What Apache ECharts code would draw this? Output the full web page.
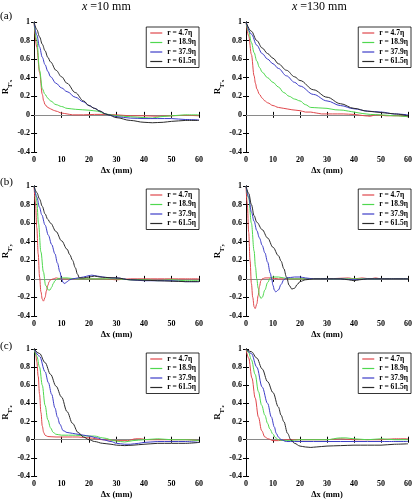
<!DOCTYPE html>
<html>
<head>
<meta charset="utf-8">
<script src="https://cdn.jsdelivr.net/npm/echarts@6/dist/echarts.min.js"></script>
<style>
html,body{margin:0;padding:0;background:#fff;}
#chart{width:415px;height:500px;}
</style>
</head>
<body>
<div id="chart"></div>
<script>
// ---------- data ----------
const seriesNames = ['r = 4.7η', 'r = 18.9η', 'r = 37.9η', 'r = 61.5η'];
const xTicks = [0, 10, 20, 30, 40, 50, 60];
const yTicks = [-0.4, -0.2, 0, 0.2, 0.4, 0.6, 0.8, 1];
const columnTitles = ['=10 mm', '=130 mm'];
const rowTags = ['(a)', '(b)', '(c)'];
const rowSubs = ['x', 'y', 'z'];

// (a) x = 10 mm
const aL_red = [[0,1],[1,0.73],[2,0.46],[3,0.22],[3.5,0.15],[4,0.11],[5,0.08],[6,0.065],[7,0.05],[8,0.04],[10,0.02],[12,0.01],[14,0],[18,0],[22,0.005],[26,0.005],[30,0],[35,-0.01],[40,-0.01],[45,-0.015],[50,-0.01],[55,-0.005],[60,-0.01]];
const aL_green = [[0,1],[1,0.8],[2,0.48],[3,0.28],[4,0.22],[5,0.18],[6,0.15],[8,0.11],[10,0.09],[12,0.07],[15,0.06],[20,0.05],[23,0.04],[26,0.01],[28,0],[30,-0.01],[35,-0.02],[40,-0.03],[43,-0.035],[46,-0.02],[50,-0.01],[55,0],[60,0]];
const aL_blue = [[0,1],[1,0.86],[2,0.73],[3,0.62],[4,0.54],[5,0.47],[6,0.41],[8,0.34],[10,0.29],[12,0.25],[15,0.19],[18,0.14],[20,0.1],[22,0.07],[24,0.04],[26,0.01],[27,0],[30,-0.02],[35,-0.035],[40,-0.04],[45,-0.04],[50,-0.04],[55,-0.05],[60,-0.055]];
const aL_black = [[0,1],[1,0.92],[2,0.84],[3,0.76],[4,0.69],[5,0.62],[6,0.57],[8,0.48],[10,0.41],[12,0.34],[15,0.24],[18,0.15],[20,0.1],[22,0.07],[24,0.04],[26,0.01],[27,0],[30,-0.03],[35,-0.06],[40,-0.08],[43,-0.085],[47,-0.08],[50,-0.07],[55,-0.06],[60,-0.06]];
// (a) x = 130 mm
const aR_red = [[0,1],[1,0.85],[2,0.65],[3,0.42],[3.5,0.34],[4,0.28],[5,0.22],[6,0.18],[7,0.15],[8,0.13],[10,0.1],[12,0.08],[14,0.07],[17,0.055],[20,0.045],[22,0.03],[24,0.03],[26,0.02],[28,0.01],[32,0.01],[36,0.01],[40,0.005],[44,-0.01],[46,-0.015],[48,0],[52,-0.01],[56,-0.01],[60,-0.02]];
const aR_green = [[0,1],[1,0.9],[2,0.78],[3,0.67],[4,0.58],[5,0.51],[6,0.46],[8,0.4],[10,0.35],[12,0.3],[14,0.24],[16,0.2],[18,0.17],[20,0.15],[22,0.11],[24,0.08],[27,0.075],[30,0.07],[33,0.055],[36,0.05],[38,0.04],[40,0.03],[43,0.015],[46,0.005],[50,0],[55,-0.01],[60,-0.02]];
const aR_blue = [[0,1],[2,0.87],[4,0.75],[6,0.66],[8,0.6],[10,0.55],[12,0.5],[15,0.42],[18,0.35],[20,0.31],[25,0.22],[30,0.15],[35,0.1],[40,0.065],[45,0.04],[50,0.03],[55,0.01],[60,0]];
const aR_black = [[0,1],[2,0.9],[4,0.8],[6,0.72],[8,0.66],[10,0.61],[12,0.55],[15,0.48],[18,0.41],[20,0.37],[25,0.27],[30,0.19],[35,0.12],[40,0.07],[45,0.04],[50,0.025],[55,0.01],[60,-0.01]];
// (b) x = 10 mm
const bL_red = [[0,1],[0.5,0.82],[1,0.55],[1.5,0.27],[2,0.02],[2.5,-0.14],[3,-0.22],[3.4,-0.24],[4,-0.2],[4.5,-0.13],[5,-0.07],[5.5,-0.03],[6,-0.01],[7,0],[8,0.01],[10,0],[15,0],[20,0],[25,0],[30,-0.01],[35,0],[40,0],[45,0],[50,0],[55,0],[60,0]];
const bL_green = [[0,1],[0.5,0.93],[1,0.83],[1.6,0.6],[2.5,0.29],[3.4,0.075],[4.2,-0.07],[5.2,-0.12],[5.8,-0.12],[6.4,-0.09],[7,-0.05],[7.6,-0.02],[8.5,0],[10,0.01],[12,0.01],[15,0],[20,0],[25,0],[30,0],[35,-0.01],[40,-0.01],[45,-0.02],[50,-0.01],[55,-0.02],[60,-0.02]];
const bL_blue = [[0,1],[1,0.88],[2,0.77],[2.8,0.69],[4,0.58],[5.2,0.47],[6.4,0.37],[7.6,0.27],[8.5,0.17],[9.4,0.075],[10,0],[10.6,-0.04],[11.2,-0.05],[12,-0.03],[13,-0.01],[14,0],[16,0.01],[18,0.02],[20,0.035],[21,0.04],[23,0.03],[25,0.02],[28,0.01],[30,0.01],[35,-0.01],[40,-0.02],[45,-0.02],[50,-0.02],[55,-0.03],[60,-0.03]];
const bL_black = [[0,1],[1,0.93],[2,0.86],[3,0.78],[4,0.7],[5,0.64],[6,0.6],[8,0.51],[10,0.41],[12,0.32],[13,0.26],[14,0.2],[15,0.12],[15.8,0.05],[16.5,0.01],[18,0.01],[20,0.02],[22,0.03],[24,0.02],[26,0.015],[30,0.01],[35,-0.01],[40,-0.015],[45,-0.02],[50,-0.025],[55,-0.03],[60,-0.03]];
// (b) x = 130 mm
const bR_red = [[0,1],[0.5,0.8],[1,0.5],[1.5,0.2],[2,-0.05],[2.5,-0.2],[3,-0.3],[3.4,-0.32],[4,-0.27],[4.5,-0.18],[5,-0.08],[5.5,-0.02],[6,0],[7,0.01],[9,0.01],[12,0],[20,0],[30,0],[38,0.01],[40,0],[43,0.01],[46,0],[48,0.01],[50,0],[60,0]];
const bR_green = [[0,1],[1,0.87],[2,0.6],[3,0.3],[3.5,0.13],[4,0],[4.5,-0.1],[5,-0.18],[5.5,-0.21],[6,-0.2],[7,-0.12],[8,-0.04],[9,0.01],[10,0.02],[12,0.02],[14,0.01],[16,0],[20,0],[25,0],[30,0],[40,0],[50,0],[60,0]];
const bR_blue = [[0,1],[1,0.88],[2,0.72],[3,0.62],[4,0.52],[5,0.44],[6,0.36],[7,0.28],[8,0.18],[9,0.06],[9.5,0],[10,-0.07],[10.5,-0.12],[11,-0.14],[12,-0.12],[13,-0.06],[14,-0.01],[15,0.01],[18,0.02],[20,0.02],[22,0.01],[25,0],[30,0],[35,0],[40,-0.01],[45,0],[50,0],[60,0]];
const bR_black = [[0,1],[1,0.92],[2,0.8],[3,0.68],[4,0.61],[6,0.53],[8,0.44],[10,0.34],[12,0.25],[13,0.19],[14,0.11],[15,0.02],[16,-0.07],[17,-0.11],[18,-0.1],[19,-0.06],[20,-0.03],[22,-0.01],[25,0],[30,0],[35,0],[38,-0.01],[40,-0.02],[42,-0.01],[45,0],[50,0],[60,0]];
// (c) x = 10 mm
const cL_red = [[0,1],[0.5,0.96],[1,0.86],[1.5,0.7],[2,0.5],[2.5,0.3],[3,0.15],[3.5,0.08],[4,0.05],[5,0.035],[8,0.03],[12,0.03],[16,0.03],[20,0.02],[25,0],[30,-0.01],[34,-0.01],[37,0.01],[39,0.01],[41,0],[45,0],[50,0],[55,0],[60,-0.01]];
const cL_green = [[0,1],[1,0.92],[2,0.8],[3,0.6],[4,0.38],[5,0.22],[6,0.13],[7,0.08],[8,0.06],[10,0.05],[15,0.05],[20,0.04],[22,0.04],[25,0.02],[30,-0.015],[33,-0.025],[36,-0.01],[40,0],[45,0.01],[50,0],[55,0],[60,-0.01]];
const cL_blue = [[0,1],[2,0.92],[4,0.75],[5.2,0.63],[6.4,0.5],[7.6,0.35],[8.5,0.25],[9.4,0.17],[10.6,0.1],[12,0.08],[14,0.07],[16,0.06],[18,0.05],[20,0.04],[23,0.02],[25,0],[28,-0.02],[30,-0.04],[33,-0.05],[35,-0.05],[38,-0.04],[40,-0.03],[45,-0.02],[50,-0.02],[55,-0.02],[60,-0.03]];
const cL_black = [[0,1],[2,0.95],[4,0.85],[6,0.72],[8,0.59],[10,0.47],[12,0.31],[14,0.18],[16,0.08],[18,0.03],[20,0],[22,-0.02],[25,-0.04],[28,-0.05],[30,-0.06],[33,-0.065],[36,-0.06],[40,-0.05],[45,-0.04],[50,-0.04],[55,-0.04],[60,-0.03]];
// (c) x = 130 mm
const cR_red = [[0,1],[1,0.9],[2.2,0.68],[3.4,0.46],[4.6,0.25],[5.8,0.1],[7,0.03],[8.2,0.01],[10,-0.01],[12,-0.01],[15,0],[20,0],[25,0],[30,0],[35,0.01],[40,0],[45,0],[50,0],[55,0.01],[60,0.01]];
const cR_green = [[0,1],[1,0.96],[2,0.88],[3.4,0.72],[4.6,0.53],[5.8,0.38],[7,0.27],[8,0.18],[8.8,0.12],[10,0.06],[11,0.02],[12,0],[14,-0.01],[16,-0.01],[20,0],[25,0],[30,0],[35,0.02],[37,0.02],[40,0.01],[45,0],[50,0.01],[55,0],[60,0]];
const cR_blue = [[0,1],[2,0.95],[4,0.8],[6,0.58],[8,0.4],[9.4,0.25],[10.5,0.14],[11.2,0.07],[12,0.03],[13,0],[15,-0.02],[18,-0.02],[20,-0.02],[30,-0.02],[40,-0.02],[50,-0.02],[60,-0.02]];
const cR_black = [[0,1],[2,0.97],[4,0.9],[6,0.78],[8,0.64],[10,0.52],[12,0.36],[13,0.27],[14,0.2],[15.4,0.07],[16.6,0],[18,-0.04],[20,-0.07],[22,-0.08],[24,-0.085],[26,-0.08],[30,-0.07],[35,-0.065],[40,-0.06],[45,-0.06],[50,-0.06],[55,-0.05],[60,-0.045]];

const panels = [
  [aL_red, aL_green, aL_blue, aL_black],
  [aR_red, aR_green, aR_blue, aR_black],
  [bL_red, bL_green, bL_blue, bL_black],
  [bR_red, bR_green, bR_blue, bR_black],
  [cL_red, cL_green, cL_blue, cL_black],
  [cR_red, cR_green, cR_blue, cR_black]
];

// ---------- layout / style ----------
const colors = ['#e0474c', '#4fd84f', '#3d3dc8', '#2b2b2b'];
const SERIF = '"Liberation Serif", "DejaVu Serif", serif';
const gridBoxes = [
  {left: 32, top: 22, width: 167, height: 130},
  {left: 246, top: 22, width: 165, height: 130},
  {left: 32, top: 186, width: 167, height: 130},
  {left: 246, top: 186, width: 165, height: 130},
  {left: 32, top: 349, width: 167, height: 130},
  {left: 246, top: 349, width: 165, height: 130}
];
const legendTops = [27, 27, 189, 189, 353, 353];

const option = {
  animation: false,
  backgroundColor: '#fff',
  grid: [], xAxis: [], yAxis: [], series: [], legend: [], graphic: []
};

const axisLine = {show: true, lineStyle: {color: '#000', width: 1}};
const fmt = v => String(+(+v).toFixed(1));

panels.forEach((lines, p) => {
  const row = Math.floor(p / 2);
  const g = gridBoxes[p];
  option.grid.push(Object.assign({containLabel: false}, g));
  option.xAxis.push({
    type: 'value', gridIndex: p, min: xTicks[0], max: xTicks[xTicks.length - 1], interval: 10,
    position: 'bottom', axisLine, splitLine: {show: false},
    axisTick: {show: true, inside: true, length: 3, lineStyle: {color: '#000'}},
    axisLabel: {color: '#000', fontFamily: SERIF, fontWeight: 'bold', fontSize: 8, margin: 4, formatter: fmt},
    name: 'Δx (mm)', nameLocation: 'middle', nameGap: 14,
    nameTextStyle: {color: '#000', fontFamily: SERIF, fontWeight: 'bold', fontSize: 8.5}
  });
  option.xAxis.push({
    type: 'value', gridIndex: p, min: xTicks[0], max: xTicks[xTicks.length - 1], interval: 10,
    position: 'top', axisLine, splitLine: {show: false},
    axisTick: {show: true, inside: true, length: 3, lineStyle: {color: '#000'}},
    axisLabel: {show: false}
  });
  option.yAxis.push({
    type: 'value', gridIndex: p, min: yTicks[0], max: yTicks[yTicks.length - 1], interval: 0.2,
    position: 'left', axisLine, splitLine: {show: false},
    axisTick: {show: true, inside: true, length: 3, lineStyle: {color: '#000'}},
    axisLabel: {color: '#000', fontFamily: SERIF, fontWeight: 'bold', fontSize: 8, margin: 4, formatter: fmt},
    name: '{r|R}{t|T′}{s|' + rowSubs[row] + '}', nameLocation: 'middle', nameGap: 18,
    nameTextStyle: {
      color: '#000', fontFamily: SERIF,
      rich: {
        r: {fontSize: 9, fontWeight: 'bold', fontFamily: SERIF, color: '#000', lineHeight: 16, verticalAlign: 'middle'},
        t: {fontSize: 6, fontWeight: 'bold', fontFamily: SERIF, color: '#000', lineHeight: 10, verticalAlign: 'bottom'},
        s: {fontSize: 5, fontWeight: 'bold', fontFamily: SERIF, color: '#000', lineHeight: 6, verticalAlign: 'bottom'}
      }
    }
  });
  option.yAxis.push({
    type: 'value', gridIndex: p, min: yTicks[0], max: yTicks[yTicks.length - 1], interval: 0.2,
    position: 'right', axisLine, splitLine: {show: false},
    axisTick: {show: true, inside: true, length: 3, lineStyle: {color: '#000'}},
    axisLabel: {show: false}
  });

  lines.forEach((data, k) => {
    const s = {
      type: 'line', name: seriesNames[k], xAxisIndex: 2 * p, yAxisIndex: 2 * p,
      data, symbol: 'none', showSymbol: false, smooth: 0.35, smoothMonotone: 'x',
      lineStyle: {color: colors[k], width: 1}, itemStyle: {color: colors[k]},
      silent: true, z: 3
    };
    if (k === 0) {
      s.markLine = {
        silent: true, symbol: 'none', label: {show: false},
        lineStyle: {color: '#8a8a8a', type: 'solid', width: 1},
        data: [{yAxis: 0}], z: 2
      };
    }
    option.series.push(s);
  });

  option.legend.push({
    data: seriesNames, orient: 'vertical', icon: 'rect',
    right: 415 - (g.left + g.width), top: legendTops[p],
    backgroundColor: '#fff', borderColor: '#000', borderWidth: 0.8,
    padding: [2, 3, 2, 4], itemGap: 1.5, itemWidth: 12, itemHeight: 1.2,
    textStyle: {color: '#000', fontFamily: SERIF, fontWeight: 'bold', fontSize: 7.5, lineHeight: 8},
    selectedMode: false
  });
});

// column titles
option.graphic.push({
  type: 'text', left: 82, top: 1,
  style: {rich: {i: {fontFamily: SERIF, fontStyle: 'italic', fontSize: 12, fill: '#000'}, n: {fontFamily: SERIF, fontSize: 12, fill: '#000'}},
          text: '{i|x }{n|' + columnTitles[0] + '}'}
});
option.graphic.push({
  type: 'text', left: 292, top: 1,
  style: {rich: {i: {fontFamily: SERIF, fontStyle: 'italic', fontSize: 12, fill: '#000'}, n: {fontFamily: SERIF, fontSize: 12, fill: '#000'}},
          text: '{i|x }{n|' + columnTitles[1] + '}'}
});
const tagTops = [11, 177, 341];
rowTags.forEach((t, i) => {
  option.graphic.push({type: 'text', left: 0, top: tagTops[i], style: {text: t, fontFamily: SERIF, fontSize: 11, fill: '#000'}});
});

const chart = echarts.init(document.getElementById('chart'), null, {renderer: 'canvas'});
chart.setOption(option);
</script>
</body>
</html>
